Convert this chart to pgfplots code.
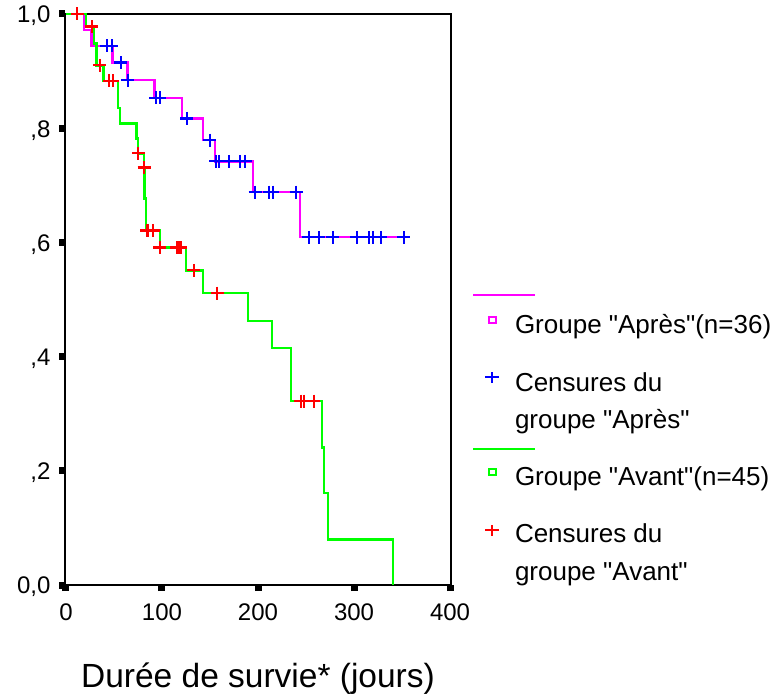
\documentclass[border=0pt]{standalone}
\usepackage{fontspec}
\setmainfont{Liberation Sans}[Ligatures=TeXOff]
\usepackage{pgfplots}
\pgfplotsset{compat=1.18}
\definecolor{kmmag}{RGB}{255,0,255}
\definecolor{kmblue}{RGB}{0,0,255}
\definecolor{kmgreen}{RGB}{0,255,0}
\definecolor{kmred}{RGB}{255,0,0}
% legend text with forced height/depth, to set the row spacing
\newcommand{\lbox}[3]{\raisebox{0pt}[#1pt][#2pt]{#3}}
\newcommand{\dq}{\symbol{34}}
\begin{document}
\begin{tikzpicture}
\path[use as bounding box] (-65pt,-111pt) rectangle (708pt,585pt);
\begin{axis}[
  scale only axis, width=386pt, height=571pt,
  at={(0pt,0pt)}, anchor=south west,
  xmin=-1, xmax=401, ymin=0, ymax=1,
  clip=false,
  axis line style={line width=1.8pt},
  tick pos=left, tick align=outside,
  major tick length=6pt,
  tick style={black, line width=7pt},
  xtick={0,100,200,300,400},
  xticklabels={0,100,200,300,400},
  ytick={0,0.2,0.4,0.6,0.8,1},
  yticklabels={{0,0},{,2},{,4},{,6},{,8},{1,0}},
  ticklabel style={font=\fontsize{24}{28}\selectfont},
  xticklabel style={yshift=-9pt},
  yticklabel style={xshift=-5pt, yshift=-2pt},
  xlabel={Durée de survie* (jours)},
  xlabel style={font=\fontsize{33.5}{38}\selectfont, at={(axis description cs:0.5,0)}, anchor=base, yshift=-102pt},
  legend style={draw=none, fill=none, at={(axis description cs:1,0)}, anchor=south west,
    xshift=22pt, yshift=-1pt, inner sep=0pt, outer sep=0pt, row sep=0pt, column sep=8pt,
    font=\fontsize{26}{31}\selectfont,
    nodes={inner sep=0pt, outer sep=0pt, text depth=, text height=}},
  legend cell align=left,
]
% groupe "Apres"
\addplot[const plot, kmmag, line width=2.4pt, forget plot] coordinates {
  (0,1) (18.75,0.972) (26.8,0.944) (48.6,0.915) (63.9,0.884) (92.2,0.853)
  (120.8,0.817) (142.7,0.779) (155.2,0.742) (194.8,0.688) (243.7,0.609) (352,0.609)};
% groupe "Avant"
\addplot[const plot, kmgreen, line width=2.4pt, forget plot] coordinates {
  (0,1) (20.8,0.978) (29.2,0.948) (32,0.910) (38.9,0.883) (53.9,0.835) (56.3,0.808)
  (73.6,0.782) (75.3,0.756) (81.3,0.731) (81.8,0.677) (83.3,0.621) (97.9,0.591)
  (125,0.551) (142.7,0.511) (189.6,0.462) (214.6,0.415) (234.4,0.322) (266.4,0.241)
  (268.8,0.161) (272.9,0.080) (340.3,0)};
% censures
\addplot[only marks, mark=+, kmblue, mark size=6.5pt, mark options={line width=2.2pt}, forget plot] coordinates {
  (42.4,0.944) (47.6,0.944) (57,0.915) (64.5,0.884) (93.7,0.853) (97.9,0.853)
  (125.7,0.817) (150,0.779) (156,0.742) (159.7,0.742) (169.8,0.742) (181,0.742)
  (186.5,0.742) (196.9,0.688) (211.5,0.688) (215.3,0.688) (239.6,0.688) (253,0.609)
  (263.5,0.609) (278,0.609) (302.8,0.609) (315.6,0.609) (319.8,0.609) (327.8,0.609) (352,0.609)};
\addplot[only marks, mark=+, kmred, mark size=6.5pt, mark options={line width=2.2pt}, forget plot] coordinates {
  (11.8,1) (26.8,0.978) (35.4,0.910) (45.1,0.883) (48.6,0.883) (75.3,0.756) (81.3,0.731)
  (84,0.621) (85.5,0.621) (91,0.621) (97.9,0.591) (115.5,0.591) (117.5,0.591) (119.5,0.591)
  (133.3,0.551) (157.3,0.511) (244.5,0.322) (247.9,0.322) (258.3,0.322)};

% legend, SPSS style
\addlegendimage{legend image code/.code={\draw[overlay,kmmag,line width=2.4pt] (0pt,0pt)--(62pt,0pt); \path[draw=none,fill=none] (0pt,0pt)--(34pt,0pt);}}
\addlegendentry{\lbox{5}{5}{}}
\addlegendimage{legend image code/.code={\draw[kmmag,line width=1.8pt,fill=none] (16.1pt,-2.9pt) rectangle (22.9pt,2.9pt); \path[draw=none,fill=none] (0pt,0pt)--(34pt,0pt);}}
\addlegendentry{\lbox{33}{7}{Groupe \dq Après\dq(n=36)}}
\addlegendimage{legend image code/.code={\draw[kmblue,line width=2pt] (12pt,0pt)--(26pt,0pt) (19pt,-5.5pt)--(19pt,5.5pt); \path[draw=none,fill=none] (0pt,0pt)--(34pt,0pt);}}
\addlegendentry{\lbox{51}{23}{Censures du}}
\addlegendimage{legend image code/.code={\path[draw=none,fill=none] (0pt,0pt)--(34pt,0pt);}}
\addlegendentry{\lbox{14}{16}{groupe \dq Après\dq}}
\addlegendimage{legend image code/.code={\draw[overlay,kmgreen,line width=2.4pt] (0pt,0pt)--(62pt,0pt); \path[draw=none,fill=none] (0pt,0pt)--(34pt,0pt);}}
\addlegendentry{\lbox{5}{5}{}}
\addlegendimage{legend image code/.code={\draw[kmgreen,line width=1.8pt,fill=none] (16.1pt,-2.9pt) rectangle (22.9pt,2.9pt); \path[draw=none,fill=none] (0pt,0pt)--(34pt,0pt);}}
\addlegendentry{\lbox{31}{5}{Groupe \dq Avant\dq(n=45)}}
\addlegendimage{legend image code/.code={\draw[kmred,line width=2pt] (12pt,0pt)--(26pt,0pt) (19pt,-5.5pt)--(19pt,5.5pt); \path[draw=none,fill=none] (0pt,0pt)--(34pt,0pt);}}
\addlegendentry{\lbox{52}{28}{Censures du}}
\addlegendimage{legend image code/.code={\path[draw=none,fill=none] (0pt,0pt)--(34pt,0pt);}}
\addlegendentry{\lbox{10}{6}{groupe \dq Avant\dq}}
\end{axis}
\end{tikzpicture}
\end{document}
